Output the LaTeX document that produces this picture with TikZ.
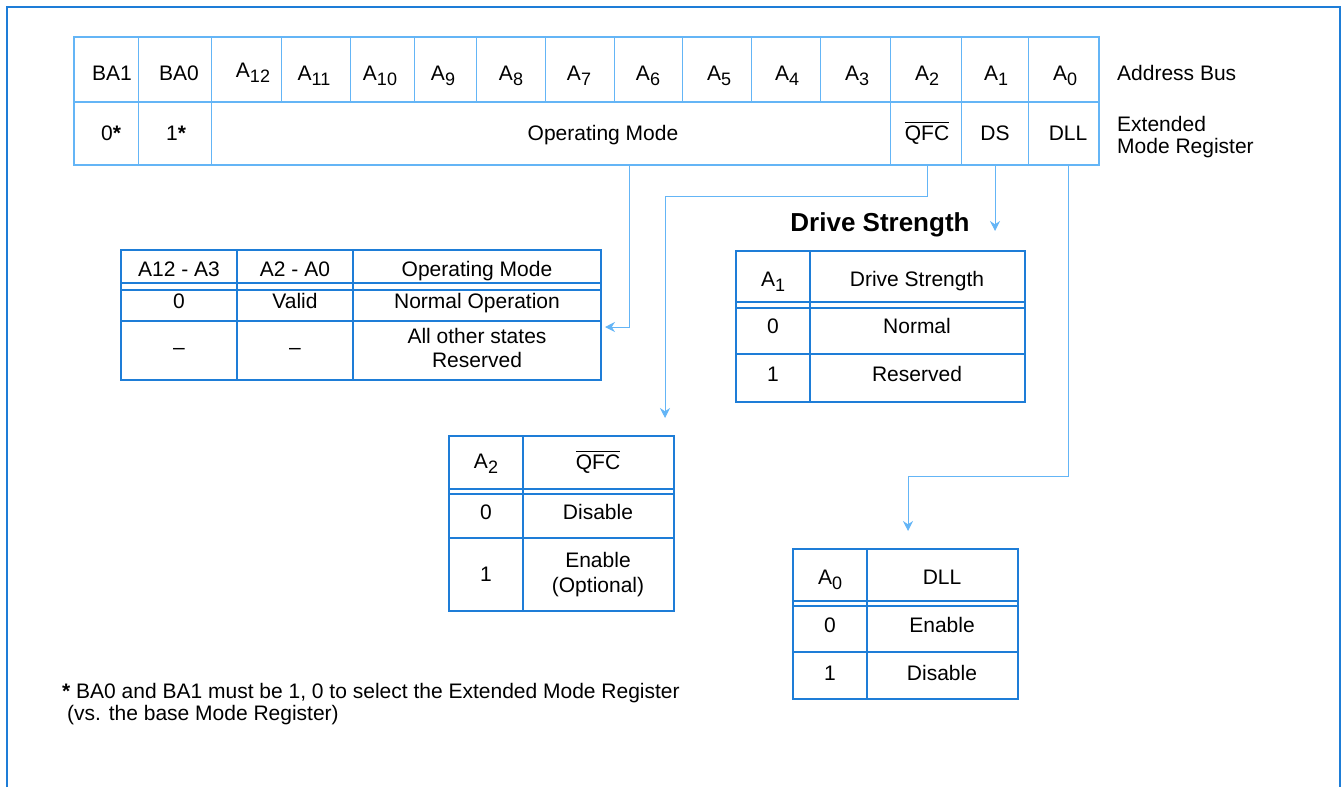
\documentclass[tikz,border=0pt]{standalone}
\usepackage{fontspec}
\setmainfont{Liberation Sans}
\usetikzlibrary{arrows.meta, positioning}
\definecolor{regblue}{RGB}{100,181,246}
\definecolor{tabblue}{RGB}{30,125,215}
\newcommand{\addr}[1]{A\raisebox{-5pt}{\fontsize{18}{18}\selectfont #1}}
\newcommand{\qfcbar}{\leavevmode\vbox{\hrule height 1.6pt\kern2.2pt\hbox{QFC}}}
\tikzset{
    >={Stealth[length=10pt, width=10pt]},
    every node/.style={font=\fontsize{21}{25}\selectfont, inner sep=0pt},
    txt/.style={anchor=base},
    regbox/.style={draw=regblue, line width=2pt},
    regsep/.style={draw=regblue, line width=1pt},
    tbl/.style={draw=tabblue, line width=2pt},
    link/.style={->, draw=regblue, line width=1pt},
}

\begin{document}
\begin{tikzpicture}[x=1pt, y=-1pt]
\useasboundingbox (0,0) rectangle (1341,787);
\draw[tbl] (7,787) -- (7,7) -- (1340,7) -- (1340,787);

\foreach \x in {138,211,281,350,414,476,545,614,682,751,820,890,961,1028}
    \draw[regsep] (\x,37) -- (\x,102);
\foreach \x in {138,211,890,961,1028}
    \draw[regsep] (\x,102) -- (\x,165);
\draw[regbox] (74,102) -- (1099,102);
\node[regbox, minimum width=1025pt, minimum height=128pt] (reg) at (586.5,101) {};

\foreach \x/\y/\t [count=\i] in {112/80/BA1, 179/80/BA0, 253/77/\addr{12}, 314/80/\addr{11},
    380/80/\addr{10}, 443/80/\addr{9}, 511/80/\addr{8}, 579/80/\addr{7}, 648/80/\addr{6},
    719/80/\addr{5}, 787/80/\addr{4}, 857/80/\addr{3}, 927/80/\addr{2}, 996/80/\addr{1}, 1065/80/\addr{0}}
    \node[txt] (bus\i) at (\x,\y) {\t};

\node[txt] (ba1) at (111,140) {0\textbf{*}};
\node[txt] (ba0) at (176,140) {1\textbf{*}};
\node[txt] (om) at (603,140) {Operating Mode};
\node[txt] (qfc) at (927,140) {\qfcbar};
\node[txt] (ds) at (995,140) {DS};
\node[txt] (dll) at (1068,140) {DLL};
\node[txt, anchor=base west] (busname) at (1117,80) {Address Bus};
\node[txt, anchor=base west] (emr1) at (1117,131) {Extended};
\node[txt, anchor=base west] (emr2) at (1117,153) {Mode Register};

\node[tbl, minimum width=480pt, minimum height=130pt] (omtab) at (361,315) {};
\draw[tbl] (121,283) -- (601,283) (121,290) -- (601,290) (121,321) -- (601,321)
    (237,250) -- (237,380) (353,250) -- (353,380);
\node[txt] (omh1) at (179,276) {A12 - A3};
\node[txt] (omh2) at (295,276) {A2 - A0};
\node[txt] (omh3) at (477,276) {Operating Mode};
\node[txt] (om11) at (179,308) {0};
\node[txt] (om12) at (295,308) {Valid};
\node[txt] (om13) at (477,308) {Normal Operation};
\node[txt] (om21) at (179,354) {--};
\node[txt] (om22) at (295,354) {--};
\node[txt] (om23) at (477,343) {All other states};
\node[txt] (om24) at (477,367) {Reserved};

\node[font=\bfseries\fontsize{26}{30}\selectfont, anchor=base] (title) at (880,231) {Drive Strength};
\node[tbl, minimum width=289pt, minimum height=151pt] (dstab) at (880.5,326.5) {};
\draw[tbl] (736,302) -- (1025,302) (736,308) -- (1025,308) (736,354) -- (1025,354)
    (810,251) -- (810,402);
\node[txt] (dsh1) at (773,286) {\addr{1}};
\node[txt] (dsh2) at (917,286) {Drive Strength};
\node[txt] (ds11) at (773,333) {0};
\node[txt] (ds12) at (917,333) {Normal};
\node[txt] (ds21) at (773,381) {1};
\node[txt] (ds22) at (917,381) {Reserved};

\node[tbl, minimum width=225pt, minimum height=175pt] (qfctab) at (561.5,523.5) {};
\draw[tbl] (449,489) -- (674,489) (449,494) -- (674,494) (449,538) -- (674,538)
    (523,436) -- (523,611);
\node[txt] (qh1) at (486,468) {\addr{2}};
\node[txt] (qh2) at (598,469) {\qfcbar};
\node[txt] (q11) at (486,519) {0};
\node[txt] (q12) at (598,519) {Disable};
\node[txt] (q21) at (486,581) {1};
\node[txt] (q22) at (598,567) {Enable};
\node[txt] (q23) at (598,592) {(Optional)};

\node[tbl, minimum width=225pt, minimum height=150pt] (dlltab) at (905.5,624) {};
\draw[tbl] (793,601) -- (1018,601) (793,606) -- (1018,606) (793,652) -- (1018,652)
    (867,549) -- (867,699);
\node[txt] (dh1) at (830,584) {\addr{0}};
\node[txt] (dh2) at (942,584) {DLL};
\node[txt] (d11) at (830,632) {0};
\node[txt] (d12) at (942,632) {Enable};
\node[txt] (d21) at (830,680) {1};
\node[txt] (d22) at (942,680) {Disable};

\node[txt, anchor=base west] (note1) at (62,698) {\textbf{*} BA0 and BA1 must be 1, 0 to select the Extended Mode Register};
\node[txt, anchor=base west] (note2) at (67,720) {(vs. the base Mode Register)};

\path (reg.south) ++(42.5,0) coordinate (omtap);
\draw[link] (omtap) |- ([shift={(3,12)}]omtab.east);
\draw[link] (qfc |- reg.south) -- ++(0,30) -| ([shift={(103.5,-17)}]qfctab.north);
\draw[link] (ds |- reg.south) -- (ds |- title.base);
\draw[link] (dll |- reg.south) -- ++(0,310) -| ([shift={(2.5,-17)}]dlltab.north);
\end{tikzpicture}
\end{document}
